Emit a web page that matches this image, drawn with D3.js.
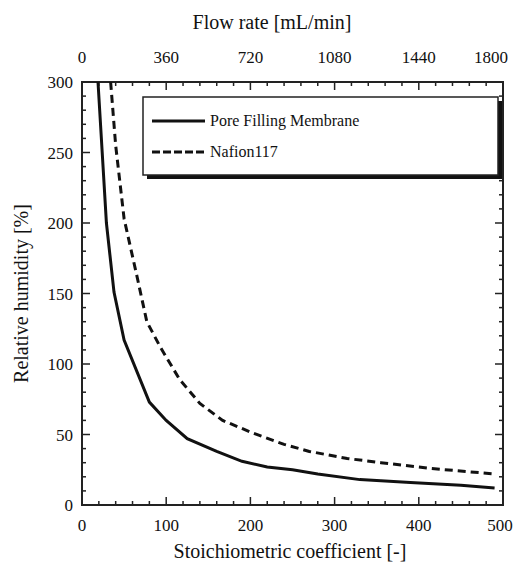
<!DOCTYPE html>
<html>
<head>
<meta charset="utf-8">
<script src="https://cdn.jsdelivr.net/npm/d3@7"></script>
<style>
  body { margin: 0; background: #fff; }
  svg text { font-family: "Liberation Serif", "Times New Roman", Times, serif; }
</style>
</head>
<body>
<div id="chart"></div>
<script>
// data
const poreFilling = [
    [19, 300], [24, 250], [29, 200], [38, 151], [50, 117], [80, 73],
    [100, 60], [125, 47], [160, 38], [190, 31], [220, 27], [250, 25],
    [280, 22], [330, 18], [390, 16], [450, 14], [490, 12]
]
const nafion117 = [
    [34, 300], [40, 255], [50, 203], [65, 163], [77, 130], [93, 112],
    [116, 89], [140, 72], [167, 60], [203, 51], [240, 43], [270, 38],
    [315, 33], [355, 30], [413, 26], [490, 22]
]
const seriesNames = ["Pore Filling Membrane", "Nafion117"]
const xTicks = [0, 100, 200, 300, 400, 500]
const yTicks = [0, 50, 100, 150, 200, 250, 300]
const flowTicks = [0, 360, 720, 1080, 1440, 1800]

const width = 515, height = 564
const margin = {top: 82, right: 12, bottom: 59, left: 82}

const svg = d3.select("#chart")
    .append("svg")
    .attr("width", width)
    .attr("height", height)

const x = d3.scaleLinear().domain([0, 500]).range([margin.left, width - margin.right])
const y = d3.scaleLinear().domain([0, 300]).range([height - margin.bottom, margin.top])
const xTop = d3.scaleLinear().domain([0, 1800]).range(x.range())

const x0 = x.range()[0], x1 = x.range()[1]
const y0 = y.range()[0], y1 = y.range()[1]

// ticks pointing inward on all four sides
const ticks = svg.append("g").attr("stroke", "#222").attr("stroke-width", 1.5)
d3.range(0, 501, 20).forEach(v => {
    const len = v % 100 === 0 ? 8 : 4
    ticks.append("line").attr("x1", x(v)).attr("x2", x(v)).attr("y1", y0).attr("y2", y0 - len)
    ticks.append("line").attr("x1", x(v)).attr("x2", x(v)).attr("y1", y1).attr("y2", y1 + len)
})
d3.range(0, 301, 10).forEach(v => {
    const len = v % 50 === 0 ? 8 : 4
    ticks.append("line").attr("x1", x0).attr("x2", x0 + len).attr("y1", y(v)).attr("y2", y(v))
    ticks.append("line").attr("x1", x1).attr("x2", x1 - len).attr("y1", y(v)).attr("y2", y(v))
})

svg.append("rect")
    .attr("x", x0).attr("y", y1)
    .attr("width", x1 - x0).attr("height", y0 - y1)
    .attr("fill", "none").attr("stroke", "#222").attr("stroke-width", 2)

// tick labels
svg.append("g").selectAll("text").data(xTicks).join("text")
    .attr("x", d => d === 500 ? x(d) - 3 : x(d)).attr("y", 531)
    .attr("text-anchor", "middle").attr("font-size", 17).attr("fill", "#111")
    .text(d => d)

svg.append("g").selectAll("text").data(flowTicks).join("text")
    .attr("x", d => d === 1800 ? 508 : xTop(d))
    .attr("y", 63)
    .attr("text-anchor", d => d === 1800 ? "end" : "middle")
    .attr("font-size", 17).attr("fill", "#111")
    .text(d => d)

svg.append("g").selectAll("text").data(yTicks).join("text")
    .attr("x", 73).attr("y", d => y(d) + 6)
    .attr("text-anchor", "end").attr("font-size", 17).attr("fill", "#111")
    .text(d => d)

// axis titles
svg.append("text")
    .attr("x", 272).attr("y", 29)
    .attr("text-anchor", "middle").attr("font-size", 20).attr("fill", "#111")
    .text("Flow rate [mL/min]")

svg.append("text")
    .attr("x", 290).attr("y", 558)
    .attr("text-anchor", "middle").attr("font-size", 20).attr("fill", "#111")
    .text("Stoichiometric coefficient [-]")

svg.append("text")
    .attr("transform", `translate(28, ${(y0 + y1) / 2}) rotate(-90)`)
    .attr("text-anchor", "middle").attr("font-size", 20).attr("fill", "#111")
    .text("Relative humidity [%]")

// curves
const line = d3.line().x(d => x(d[0])).y(d => y(d[1]))

svg.append("path")
    .datum(poreFilling)
    .attr("d", line)
    .attr("fill", "none").attr("stroke", "#111").attr("stroke-width", 3)

svg.append("path")
    .datum(nafion117)
    .attr("d", line)
    .attr("fill", "none").attr("stroke", "#111").attr("stroke-width", 3)
    .attr("stroke-dasharray", "8,5")

// legend with drop shadow
const legend = svg.append("g").attr("transform", "translate(143, 97)")
legend.append("rect")
    .attr("x", 4).attr("y", 4).attr("width", 355).attr("height", 78)
    .attr("fill", "#111")
legend.append("rect")
    .attr("x", 0).attr("y", 0).attr("width", 355).attr("height", 78)
    .attr("fill", "#fff").attr("stroke", "#222").attr("stroke-width", 1.5)

seriesNames.forEach((name, i) => {
    const ly = 24 + i * 31
    legend.append("line")
        .attr("x1", 9).attr("x2", 62).attr("y1", ly).attr("y2", ly)
        .attr("stroke", "#111").attr("stroke-width", 3)
        .attr("stroke-dasharray", i === 1 ? "8,3" : null)
    legend.append("text")
        .attr("x", 67).attr("y", ly + 5)
        .attr("font-size", 16).attr("fill", "#111")
        .text(name)
})
</script>
</body>
</html>
